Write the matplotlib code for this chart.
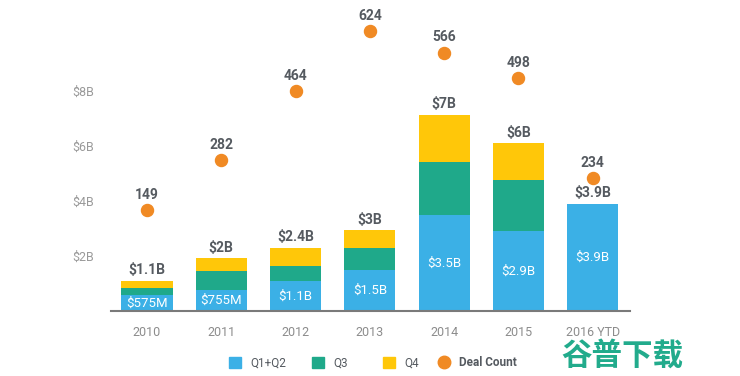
import matplotlib.pyplot as plt
from matplotlib.lines import Line2D
from matplotlib.patches import Patch

years = ["2010", "2011", "2012", "2013", "2014", "2015", "2016 YTD"]
q1q2 = [0.575, 0.755, 1.1, 1.5, 3.5, 2.9, 3.9]
q3 = [0.25, 0.69, 0.55, 0.8, 1.93, 1.85, 0]
q4 = [0.275, 0.47, 0.65, 0.65, 1.71, 1.35, 0]
totals = ["$1.1B", "$2B", "$2.4B", "$3B", "$7B", "$6B", "$3.9B"]
inner = ["$575M", "$755M", "$1.1B", "$1.5B", "$3.5B", "$2.9B", "$3.9B"]
deals = [149, 282, 464, 624, 566, 498, 234]

blue = "#3BB0E6"
green = "#1FA98A"
yellow = "#FFC709"
orange = "#F08A24"

plt.rcParams['font.family'] = ['Roboto', 'DejaVu Sans']

fig = plt.figure(figsize=(7.4, 3.76), dpi=100)
ax = fig.add_axes([0.15, 0.1729, 0.701, 0.8271])
x = list(range(len(years)))
w = 0.69

b1 = [a for a in q1q2]
b2 = [a + b for a, b in zip(q1q2, q3)]
ax.bar(x, q1q2, width=w, color=blue)
ax.bar(x, q3, width=w, bottom=b1, color=green)
ax.bar(x, q4, width=w, bottom=b2, color=yellow)

for i in x:
    top = q1q2[i] + q3[i] + q4[i]
    ax.text(i, top + 0.12, totals[i], ha='center', va='bottom',
            fontsize=10, fontweight='bold', color='#555a60')
    ax.text(i, q1q2[i] / 2, inner[i], ha='center', va='center',
            fontsize=9.5, color='white')

ax.set_xlim(-0.484, 6.498)
ax.set_ylim(0, 11.31)
ax.set_yticks([2, 4, 6, 8])
ax.set_yticklabels(["$2B", "$4B", "$6B", "$8B"])
ax.set_xticks(x)
ax.set_xticklabels(years)
ax.tick_params(axis='y', length=0, pad=12, labelsize=9, labelcolor='#9a9a9a')
ax.tick_params(axis='x', length=0, pad=11, labelsize=9, labelcolor='#8c8c8c')
for s in ['top', 'right', 'left']:
    ax.spines[s].set_visible(False)
ax.spines['bottom'].set_color('#7a7a7a')
ax.spines['bottom'].set_linewidth(1.5)

ax2 = ax.twinx()
ax2.scatter(x, deals, s=75, color=orange, zorder=3)
for i in x:
    ax2.text(i, deals[i] + 22, str(deals[i]), ha='center', va='bottom',
             fontsize=10, fontweight='bold', color='#555a60')
ax2.set_ylim(-119, 706)
ax2.set_yticks([])
for s in ax2.spines.values():
    s.set_visible(False)

# legend items placed one by one (gaps in the original are uneven)
handles = [Patch(color=blue, label="Q1+Q2"), Patch(color=green, label="Q3"),
           Patch(color=yellow, label="Q4"),
           Line2D([], [], marker='o', ls='', color=orange, markersize=9, label="Deal Count")]
lefts = [229, 312, 383, 438]
for h, px in zip(handles, lefts):
    leg = fig.legend(handles=[h], loc='center left', bbox_to_anchor=(px / 740, 0.0346),
                     frameon=False, fontsize=8.5, handlelength=1.0, handleheight=1.0,
                     handletextpad=0.8, borderpad=0, borderaxespad=0)
    t = leg.get_texts()[0]
    t.set_color('#555a60')
    if h.get_label() == "Deal Count":
        t.set_fontweight('bold')

fig.text(0.758, 0.055, "谷普下载", family=['Noto Sans CJK SC', 'DejaVu Sans'],
         fontsize=22, fontweight='black', color='#22ab8c', ha='left', va='center')

fig.savefig("out.png", dpi=100)
